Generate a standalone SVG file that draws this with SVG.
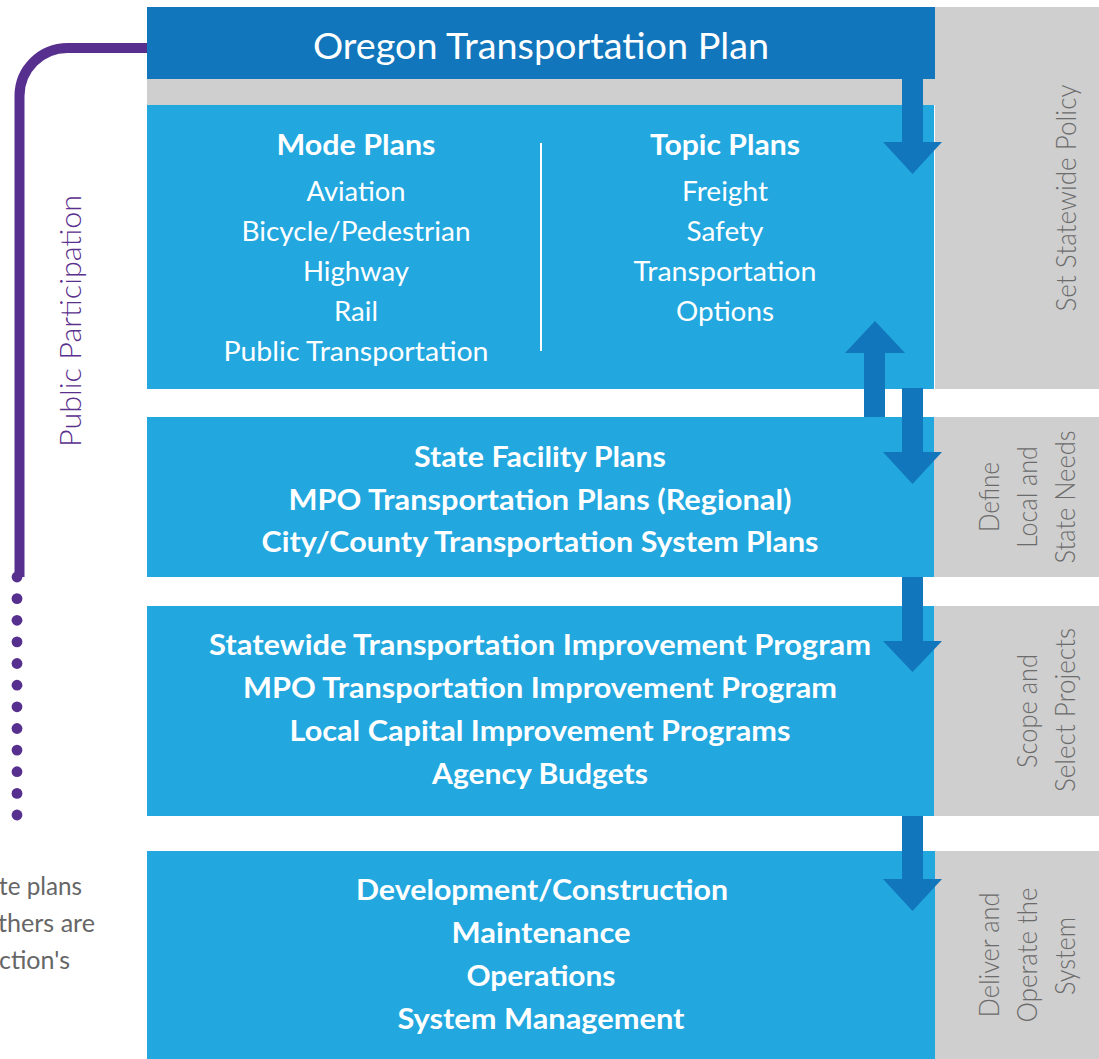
<svg xmlns="http://www.w3.org/2000/svg" width="1099" height="1059" viewBox="0 0 1099 1059">
<style>
.bg{fill:#fff}
.gray{fill:#cfcfcf}
.dark{fill:#1176bc}
.light{fill:#22a7df}
.arrow{fill:#1176bc}
.t{font-family:Lato,"Open Sans","Liberation Sans",sans-serif;fill:#fff;text-anchor:middle}
.title{font-size:37px;font-weight:400}
.hb{font-size:29px;font-weight:700}
.it{font-size:27px;font-weight:400}
.bb{font-size:28px;font-weight:700}
.lab{font-family:Lato,"Open Sans","Liberation Sans",sans-serif;fill:#6b6b6b;font-size:27px;font-weight:300;text-anchor:middle}
.pp{font-family:Lato,"Open Sans","Liberation Sans",sans-serif;fill:#5a2f8e;font-size:30px;font-weight:300;text-anchor:middle}
.note{font-family:Lato,"Open Sans","Liberation Sans",sans-serif;fill:#666;font-size:25px;font-weight:400;text-anchor:start}
</style>
<rect class="bg" x="0" y="0" width="1099" height="1059"/>

<g id="public-participation">
<path d="M147,48 H67.5 A48,48 0 0 0 19.5,96 V577" fill="none" stroke="#57308f" stroke-width="10"/>
<g fill="#57308f">
<circle cx="17" cy="577" r="5.4"/><circle cx="17" cy="598.6" r="5.4"/><circle cx="17" cy="620.3" r="5.4"/><circle cx="17" cy="641.9" r="5.4"/><circle cx="17" cy="663.5" r="5.4"/><circle cx="17" cy="685.2" r="5.4"/><circle cx="17" cy="706.8" r="5.4"/><circle cx="17" cy="728.5" r="5.4"/><circle cx="17" cy="750.1" r="5.4"/><circle cx="17" cy="771.7" r="5.4"/><circle cx="17" cy="793.4" r="5.4"/><circle cx="17" cy="815" r="5.4"/>
</g>
<text class="pp" x="81" y="321" transform="rotate(-90 81 321)" textLength="252" lengthAdjust="spacingAndGlyphs">Public Participation</text>
</g>

<g id="note">
<text class="note" x="-1" y="895" textLength="83" lengthAdjust="spacingAndGlyphs">te plans</text>
<text class="note" x="-2" y="932" textLength="97" lengthAdjust="spacingAndGlyphs">thers are</text>
<text class="note" x="-1" y="969" textLength="71" lengthAdjust="spacingAndGlyphs">ction's</text>
</g>

<g id="stage-labels">
<rect class="gray" x="935" y="7" width="164" height="382"/>
<rect class="gray" x="934" y="417" width="165" height="160"/>
<rect class="gray" x="934" y="606" width="165" height="210"/>
<rect class="gray" x="934" y="851" width="165" height="208"/>
<text class="lab" x="1076" y="198" transform="rotate(-90 1076 198)" textLength="227" lengthAdjust="spacingAndGlyphs">Set Statewide Policy</text>
<text class="lab" x="999" y="497" transform="rotate(-90 999 497)" textLength="70" lengthAdjust="spacingAndGlyphs">Define</text>
<text class="lab" x="1037" y="497" transform="rotate(-90 1037 497)" textLength="102" lengthAdjust="spacingAndGlyphs">Local and</text>
<text class="lab" x="1075" y="497" transform="rotate(-90 1075 497)" textLength="133" lengthAdjust="spacingAndGlyphs">State Needs</text>
<text class="lab" x="1037" y="711" transform="rotate(-90 1037 711)" textLength="114" lengthAdjust="spacingAndGlyphs">Scope and</text>
<text class="lab" x="1075" y="710" transform="rotate(-90 1075 710)" textLength="164" lengthAdjust="spacingAndGlyphs">Select Projects</text>
<text class="lab" x="999" y="955" transform="rotate(-90 999 955)" textLength="125" lengthAdjust="spacingAndGlyphs">Deliver and</text>
<text class="lab" x="1037" y="955" transform="rotate(-90 1037 955)" textLength="135" lengthAdjust="spacingAndGlyphs">Operate the</text>
<text class="lab" x="1075" y="956" transform="rotate(-90 1075 956)" textLength="78" lengthAdjust="spacingAndGlyphs">System</text>
</g>

<g id="otp">
<rect class="dark" x="147" y="7" width="788" height="72"/>
<rect class="gray" x="147" y="79" width="788" height="26"/>
<text class="t title" x="541" y="59" textLength="456" lengthAdjust="spacingAndGlyphs">Oregon Transportation Plan</text>
</g>

<g id="mode-topic-plans">
<rect class="light" x="147" y="105" width="787" height="284"/>
<line x1="541" y1="143" x2="541" y2="351" stroke="#fff" stroke-width="2"/>
<text class="t hb" x="356" y="155" textLength="159" lengthAdjust="spacingAndGlyphs">Mode Plans</text>
<text class="t it" x="356" y="201" textLength="99" lengthAdjust="spacingAndGlyphs">Aviation</text>
<text class="t it" x="356" y="241" textLength="229" lengthAdjust="spacingAndGlyphs">Bicycle/Pedestrian</text>
<text class="t it" x="356" y="281" textLength="106" lengthAdjust="spacingAndGlyphs">Highway</text>
<text class="t it" x="356" y="321" textLength="44" lengthAdjust="spacingAndGlyphs">Rail</text>
<text class="t it" x="356" y="361" textLength="265" lengthAdjust="spacingAndGlyphs">Public Transportation</text>
<text class="t hb" x="725" y="155" textLength="150" lengthAdjust="spacingAndGlyphs">Topic Plans</text>
<text class="t it" x="725" y="201" textLength="86" lengthAdjust="spacingAndGlyphs">Freight</text>
<text class="t it" x="725" y="241" textLength="77" lengthAdjust="spacingAndGlyphs">Safety</text>
<text class="t it" x="725" y="281" textLength="183" lengthAdjust="spacingAndGlyphs">Transportation</text>
<text class="t it" x="725" y="321" textLength="98" lengthAdjust="spacingAndGlyphs">Options</text>
</g>

<g id="needs-plans">
<rect class="light" x="147" y="417" width="787" height="160"/>
<text class="t bb" x="540" y="467" textLength="252" lengthAdjust="spacingAndGlyphs">State Facility Plans</text>
<text class="t bb" x="540" y="510" textLength="503" lengthAdjust="spacingAndGlyphs">MPO Transportation Plans (Regional)</text>
<text class="t bb" x="540" y="552" textLength="557" lengthAdjust="spacingAndGlyphs">City/County Transportation System Plans</text>
</g>

<g id="programs">
<rect class="light" x="147" y="606" width="787" height="210"/>
<text class="t bb" x="540" y="655" textLength="662" lengthAdjust="spacingAndGlyphs">Statewide Transportation Improvement Program</text>
<text class="t bb" x="540" y="698" textLength="594" lengthAdjust="spacingAndGlyphs">MPO Transportation Improvement Program</text>
<text class="t bb" x="540" y="741" textLength="501" lengthAdjust="spacingAndGlyphs">Local Capital Improvement Programs</text>
<text class="t bb" x="540" y="784" textLength="216" lengthAdjust="spacingAndGlyphs">Agency Budgets</text>
</g>

<g id="delivery">
<rect class="light" x="147" y="851" width="788" height="208"/>
<text class="t bb" x="542" y="900" textLength="372" lengthAdjust="spacingAndGlyphs">Development/Construction</text>
<text class="t bb" x="541" y="943" textLength="179" lengthAdjust="spacingAndGlyphs">Maintenance</text>
<text class="t bb" x="541" y="986" textLength="149" lengthAdjust="spacingAndGlyphs">Operations</text>
<text class="t bb" x="541" y="1029" textLength="287" lengthAdjust="spacingAndGlyphs">System Management</text>
</g>

<g id="connectors">
<polygon class="arrow" points="902,60 923,60 923,142 942,142 912.5,174 883,142 902,142"/>
<polygon class="arrow" points="864,417 885,417 885,353 905,353 875,321 845,353 864,353"/>
<polygon class="arrow" points="902,388 923,388 923,452 942,452 912.5,484 883,452 902,452"/>
<polygon class="arrow" points="902,577 923,577 923,641 942,641 912.5,672 883,641 902,641"/>
<polygon class="arrow" points="902,816 923,816 923,879 942,879 912.5,911 883,879 902,879"/>
</g>
</svg>
